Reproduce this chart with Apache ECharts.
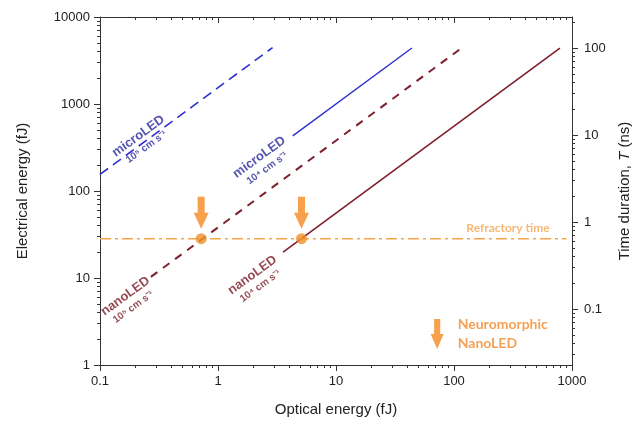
<!DOCTYPE html>
<html><head><meta charset="utf-8">
<script src="https://cdn.jsdelivr.net/npm/echarts@6/dist/echarts.min.js"></script>
<style>html,body{margin:0;padding:0;background:#fff}#c{width:644px;height:424px}</style>
</head><body><div id="c"></div>
<script>
// ---- axis ranges & tick labels ----
const xRange = [0.1, 1000];
const yLeftRange = [1, 10000];
const yRightRange = [0.0227, 227];
const xTickLabels = [0.1, 1, 10, 100, 1000];
const yLeftTickLabels = [1, 10, 100, 1000, 10000];
const yRightTickLabels = [0.1, 1, 10, 100];

// ---- series (optical energy fJ, electrical energy fJ) ----
const microLED1e5 = [[0.1, 155], [2.9, 4450]];
const microLED1e4 = [[4.3, 430], [44, 4400]];
const nanoLED1e5 = [[0.27, 10.3], [116, 4400]];
const nanoLED1e4 = [[3.56, 19.8], [790, 4400]];
const refractory = [[0.1, 28.3], [900, 28.3]];
const crossings = [[0.72, 28.3], [5.1, 28.3]];
const legendArrowPos = [[72, 2.27]];

// ---- annotation anchors ----
const microLabelPos = [[0.227, 376], [2.40, 215]];
const microLabelExp = ['10⁵', '10⁴'];
const nanoLabelPos = [[0.176, 5.44], [2.10, 9.49]];
const nanoLabelExp = ['10⁵', '10⁴'];
const refractoryLabelPos = [[287, 37.6]];

function minorTicks(lo, hi) {
  const out = [];
  for (let d = Math.floor(Math.log10(lo)); d <= Math.ceil(Math.log10(hi)); d++) {
    for (let k = 2; k <= 9; k++) {
      const v = k * Math.pow(10, d);
      if (v > lo * 1.0001 && v < hi * 0.9999) out.push(v);
    }
  }
  return out;
}

const AX = '#333';
const FONT = '"Liberation Sans", Arial, sans-serif';
const arrowPath = 'path://M4,0 L11,0 L11,16 L15,16 L7.5,32 L0,16 L4,16 Z';

function logAxis(range, extra) {
  return Object.assign({
    type: 'log', logBase: 10, min: range[0], max: range[1],
    splitLine: { show: false }, minorTick: { show: false }, minorSplitLine: { show: false },
    axisLine: { show: true, lineStyle: { color: AX, width: 1 } },
    axisTick: { show: true, length: 6, lineStyle: { color: AX, width: 1 } },
    axisLabel: { show: false }
  }, extra);
}

function fmt(v) {
  return String(v);
}

const xAxes = [
  logAxis(xRange, {
    position: 'bottom',
    axisTick: { show: true, length: 6, inside: false, customValues: xTickLabels, lineStyle: { color: AX } },
    axisLabel: { show: true, customValues: xTickLabels, formatter: fmt, fontSize: 13, color: '#222', fontFamily: FONT, margin: 10 },
    name: 'Optical energy (fJ)', nameLocation: 'middle', nameGap: 37,
    nameTextStyle: { fontSize: 15, color: '#222', fontFamily: FONT }
  }),
  logAxis(xRange, {
    position: 'bottom', axisLine: { show: false },
    axisTick: { show: true, length: 3, inside: false, customValues: minorTicks(xRange[0], xRange[1]), lineStyle: { color: AX } }
  }),
  logAxis(xRange, {
    position: 'top',
    axisTick: { show: true, length: 6, inside: true, customValues: xTickLabels, lineStyle: { color: AX } }
  }),
  logAxis(xRange, {
    position: 'top', axisLine: { show: false },
    axisTick: { show: true, length: 3, inside: true, customValues: minorTicks(xRange[0], xRange[1]), lineStyle: { color: AX } }
  })
];

const yAxes = [
  logAxis(yLeftRange, {
    position: 'left',
    axisTick: { show: true, length: 6, inside: false, customValues: yLeftTickLabels, lineStyle: { color: AX } },
    axisLabel: { show: true, customValues: yLeftTickLabels, formatter: fmt, fontSize: 13, color: '#222', fontFamily: FONT, margin: 10 },
    name: 'Electrical energy (fJ)', nameLocation: 'middle', nameGap: 70, nameRotate: 90,
    nameTextStyle: { fontSize: 15, color: '#222', fontFamily: FONT }
  }),
  logAxis(yLeftRange, {
    position: 'left', axisLine: { show: false },
    axisTick: { show: true, length: 3, inside: false, customValues: minorTicks(yLeftRange[0], yLeftRange[1]), lineStyle: { color: AX } }
  }),
  logAxis(yRightRange, {
    position: 'right',
    axisTick: { show: true, length: 6, inside: false, customValues: yRightTickLabels, lineStyle: { color: AX } },
    axisLabel: { show: true, customValues: yRightTickLabels, formatter: fmt, fontSize: 13, color: '#222', fontFamily: FONT, margin: 12 },
    name: '{n|Time duration, }{i|T}{n| (ns)}', nameLocation: 'middle', nameGap: 45, nameRotate: 90,
    nameTextStyle: { fontSize: 15, color: '#222', fontFamily: FONT,
      rich: { n: { fontSize: 15, color: '#222', fontFamily: FONT }, i: { fontSize: 15, color: '#222', fontFamily: FONT, fontStyle: 'italic' } } }
  }),
  logAxis(yRightRange, {
    position: 'right', axisLine: { show: false },
    axisTick: { show: true, length: 3, inside: false, customValues: minorTicks(yRightRange[0], yRightRange[1]), lineStyle: { color: AX } }
  })
];

const BLUE = '#2f2fd0';
const BLUE_TXT = '#2b2b9c';
const RED = '#7d1f2c';
const RED_TXT = '#7a1c28';
const ORANGE = '#f5891f';
const ORANGE_LINE = '#f3a550';

function lineSeries(data, color, type, width) {
  return {
    type: 'line', data: data, xAxisIndex: 0, yAxisIndex: 0, symbol: 'none', silent: true,
    lineStyle: { color: color, type: type, width: width }, z: 3
  };
}

function textSeries(points, exps, name, color) {
  return {
    type: 'scatter', xAxisIndex: 0, yAxisIndex: 0, symbolSize: 0, silent: true, z: 5,
    data: points.map((p, i) => ({
      value: p,
      label: {
        show: true, position: 'inside', rotate: 36, align: 'center', verticalAlign: 'middle',
        formatter: '{a|' + name + '}\n{b|' + exps[i] + ' cm s⁻¹}',
        rich: {
          a: { fontSize: 13, fontWeight: 'bold', color: color, fontFamily: FONT, lineHeight: 15 },
          b: { fontSize: 10, fontWeight: 'bold', color: color, fontFamily: FONT, lineHeight: 12 }
        }
      }
    }))
  };
}

const option = {
  backgroundColor: '#fff',
  animation: false,
  grid: { left: 100, right: 72, top: 17, bottom: 59, containLabel: false },
  xAxis: xAxes,
  yAxis: yAxes,
  series: [
    lineSeries(microLED1e5, BLUE, [10, 6], 1.6),
    lineSeries(microLED1e4, BLUE, 'solid', 1.4),
    lineSeries(nanoLED1e5, RED, [8, 7], 2),
    lineSeries(nanoLED1e4, RED, 'solid', 1.6),
    lineSeries(refractory, ORANGE_LINE, [11, 4, 3, 4], 1.6),
    {
      type: 'scatter', data: crossings, xAxisIndex: 0, yAxisIndex: 0, silent: true, z: 6,
      symbol: 'circle', symbolSize: 11, itemStyle: { color: '#f0902a' }
    },
    {
      type: 'scatter', data: crossings, xAxisIndex: 0, yAxisIndex: 0, silent: true, z: 6,
      symbol: arrowPath, symbolSize: [15, 32], symbolOffset: [0, -26], itemStyle: { color: ORANGE }
    },
    {
      type: 'scatter', data: legendArrowPos, xAxisIndex: 0, yAxisIndex: 0, silent: true, z: 6,
      symbol: arrowPath, symbolSize: [13, 30], itemStyle: { color: ORANGE },
      label: {
        show: true, position: 'right', distance: 14, align: 'left',
        formatter: 'Neuromorphic\nNanoLED', fontSize: 14, fontWeight: 'bold', lineHeight: 19,
        color: '#f0892c', fontFamily: 'Lato, "Open Sans", sans-serif'
      }
    },
    {
      type: 'scatter', data: refractoryLabelPos, xAxisIndex: 0, yAxisIndex: 0, symbolSize: 0, silent: true, z: 5,
      label: { show: true, position: 'inside', formatter: 'Refractory time', fontSize: 12, fontWeight: 'bold',
        color: ORANGE_LINE, fontFamily: 'Lato, "Open Sans", sans-serif' }
    },
    textSeries(microLabelPos, microLabelExp, 'microLED', BLUE_TXT),
    textSeries(nanoLabelPos, nanoLabelExp, 'nanoLED', RED_TXT)
  ]
};

const chart = echarts.init(document.getElementById('c'), null, { renderer: 'canvas' });
chart.setOption(option);
</script>
</body></html>
